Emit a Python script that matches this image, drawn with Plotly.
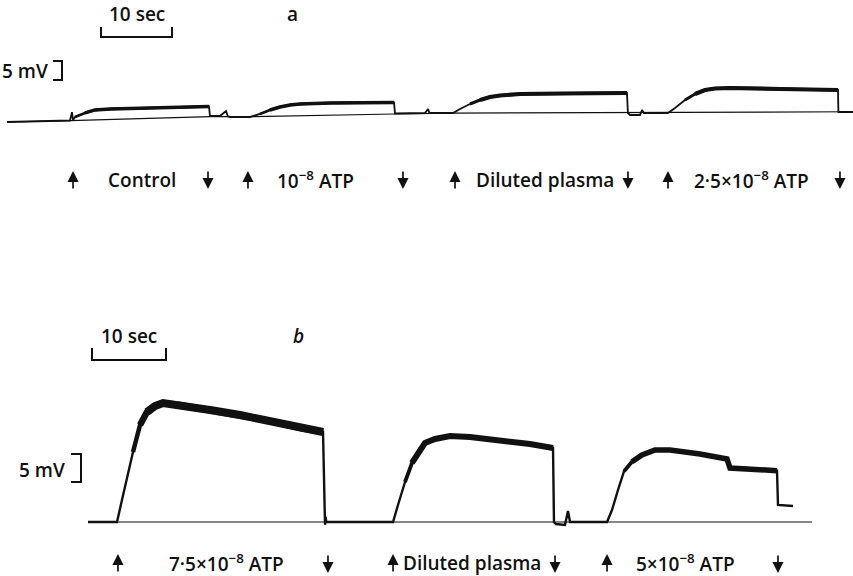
import plotly.graph_objects as go

# ---------------- Panel a : time (s) vs membrane potential (mV) ----------------
a_trace_t = [0, 8.87, 9.15, 9.3, 9.58, 10.99, 12.39, 14.51, 20.14, 28.45,
             28.59, 30.0, 30.85, 31.1, 31.41, 34.23, 35.63, 37.04, 38.45, 39.86,
             41.27, 45.49, 54.51, 54.65, 58.87, 59.3, 59.5, 62.82, 63.80, 65.21,
             66.62, 68.03, 69.44, 72.25, 77.89, 87.32, 87.45, 87.75, 89.15, 89.44,
             89.7, 93.10, 94.08, 95.49, 96.90, 98.31, 99.72, 101.83, 108.87, 117.04,
             117.1, 119.15]
a_trace_v = [0, 0.39, 2.6, 0.5, 1.32, 2.37, 3.16, 3.42, 3.68, 4.08,
             1.58, 1.58, 2.89, 1.5, 1.32, 1.32, 2.11, 3.16, 3.95, 4.47,
             4.74, 5.0, 5.13, 2.24, 2.37, 3.42, 2.37, 2.37, 3.42, 4.74,
             5.79, 6.58, 6.97, 7.37, 7.5, 7.63, 2.37, 1.84, 1.84, 3.16,
             2.37, 2.37, 3.68, 5.79, 7.37, 8.42, 8.82, 8.95, 8.68, 8.42,
             2.63, 2.63]
a_base_t = [0, 8.9, 28.6, 34.2, 54.6, 62.8, 119.15]
a_base_v = [0, 0.35, 1.4, 1.4, 2.1, 2.35, 2.7]
a_labels = ["Control", "10<sup>−8</sup> ATP", "Diluted plasma", "2·5×10<sup>−8</sup> ATP"]
a_label_t = [19.0, 43.5, 75.8, 104.9]
a_on_t = [9.3, 33.94, 63.1, 93.1]
a_off_t = [28.31, 55.77, 87.46, 117.32]

# ---------------- Panel b ----------------
b_trace_t = [0, 3.92, 4.59, 5.27, 6.08, 7.03, 7.97, 9.05, 10.14, 12.43,
             16.49, 20.54, 24.59, 28.65, 31.76, 32.03, 32.1, 32.2, 41.08, 41.22,
             41.89, 42.84, 43.78, 44.86, 45.54, 46.89, 48.92, 51.62, 55.68, 59.73,
             62.84, 62.97, 63.24, 64.46, 64.86, 65.14, 70.14, 70.81, 71.62, 72.43,
             73.51, 74.86, 76.62, 78.65, 82.70, 86.35, 86.76, 89.46, 93.11, 93.24,
             95.27]
b_trace_v = [0, 0, 3.93, 7.86, 12.5, 17.32, 19.64, 20.71, 21.25, 20.89,
             20.0, 19.11, 18.04, 16.79, 16.07, -0.5, 0.9, 0, 0, 0,
             3.04, 7.14, 10.54, 13.04, 14.11, 14.82, 15.36, 15.18, 14.64, 13.93,
             13.21, 0, -0.36, -0.54, 1.96, 0, 0, 2.14, 5.71, 9.04,
             10.77, 11.96, 12.86, 12.86, 12.14, 11.25, 9.64, 9.46, 9.16, 3.04,
             2.86]
b_base_t = [0, 97.84]
b_base_v = [0, 0]
b_labels = ["7·5×10<sup>−8</sup> ATP", "Diluted plasma", "5×10<sup>−8</sup> ATP"]
b_label_t = [18.65, 51.9, 80.68]
b_on_t = [4.05, 41.22, 70.14]
b_off_t = [32.43, 63.11, 93.24]

# calibration bars (10 s, 5 mV)
cal_time = 10
cal_volt = 5

# ---------------- layout geometry ----------------
W, H = 853, 576
A_X0, A_SX, A_Y0, A_SY = 7, 7.1, 122, 3.8      # panel a px mapping
B_X0, B_SX, B_Y0, B_SY = 88, 7.4, 522, 5.6     # panel b px mapping

def ax_range(x0, sx):
    return [-x0 / sx, (W - x0) / sx]

def ay_range(y0, sy, top, bottom):
    return [(y0 - bottom) / sy, (y0 - top) / sy]

INK = "#111111"
FONT = "Open Sans"

fig = go.Figure()

def add_line(x, y, w, xa, ya):
    fig.add_trace(go.Scatter(x=x, y=y, mode="lines", xaxis=xa, yaxis=ya,
                             line=dict(color=INK, width=w, shape="linear"),
                             hoverinfo="skip", showlegend=False))

# panel a
add_line(a_base_t, a_base_v, 1.2, "x", "y")
add_line(a_trace_t, a_trace_v, 1.8, "x", "y")
for i0, i1, w in [(4, 10, 2.6), (5, 10, 3.4), (16, 23, 2.6), (17, 23, 3.6),
                  (29, 36, 3.0), (30, 36, 4.2), (43, 50, 3.0), (44, 50, 4.2)]:
    add_line(a_trace_t[i0:i1], a_trace_v[i0:i1], w, "x", "y")

# panel b
add_line(b_base_t, b_base_v, 1.2, "x2", "y2")
add_line(b_trace_t, b_trace_v, 2.4, "x2", "y2")
for (i0, i1), w in [((4, 15), 4.5), ((5, 15), 6.5), ((6, 15), 8),
                    ((21, 31), 3.8), ((22, 31), 6),
                    ((39, 49), 3.8), ((40, 49), 5.5)]:
    add_line(b_trace_t[i0:i1], b_trace_v[i0:i1], w, "x2", "y2")

# calibration bars
a_ct0 = (101 - A_X0) / A_SX
a_cv = (A_Y0 - 37) / A_SY
tick_a = 10 / A_SY
add_line([a_ct0, a_ct0, a_ct0 + cal_time, a_ct0 + cal_time],
         [a_cv + tick_a, a_cv, a_cv, a_cv + tick_a], 2, "x", "y")
a_vt = (62 - A_X0) / A_SX
a_vb = (A_Y0 - 80) / A_SY
tw_a = 9 / A_SX
add_line([a_vt - tw_a, a_vt, a_vt, a_vt - tw_a],
         [a_vb + cal_volt, a_vb + cal_volt, a_vb, a_vb], 2, "x", "y")

b_ct0 = (92 - B_X0) / B_SX
b_cv = (B_Y0 - 360) / B_SY
tick_b = 12 / B_SY
add_line([b_ct0, b_ct0, b_ct0 + cal_time, b_ct0 + cal_time],
         [b_cv + tick_b, b_cv, b_cv, b_cv + tick_b], 2, "x2", "y2")
b_vt = (81 - B_X0) / B_SX
b_vb = (B_Y0 - 482) / B_SY
tw_b = 10 / B_SX
add_line([b_vt - tw_b, b_vt, b_vt, b_vt - tw_b],
         [b_vb + cal_volt, b_vb + cal_volt, b_vb, b_vb], 2, "x2", "y2")

annotations = []

def txt(x, y, s, xa, ya, xanchor="center", size=19):
    annotations.append(dict(x=x, y=y, xref=xa, yref=ya, text=s, showarrow=False,
                            xanchor=xanchor, yanchor="middle",
                            font=dict(family=FONT, size=size, color=INK, weight=600)))

def arrow(x, y, up, xa, ya):
    annotations.append(dict(x=x, y=y, xref=xa, yref=ya, text="", showarrow=True,
                            ax=0, ay=19 if up else -19, arrowhead=2, arrowsize=1.3,
                            arrowwidth=1.7, arrowcolor=INK))

# panel a texts
txt(a_ct0 + cal_time / 2, (A_Y0 - 14) / A_SY, "10 sec", "x", "y")
txt((292 - A_X0) / A_SX, (A_Y0 - 14) / A_SY, "a", "x", "y")
txt((50 - A_X0) / A_SX, (A_Y0 - 71) / A_SY, "5 mV", "x", "y", xanchor="right")
for s, t in zip(a_labels, a_label_t):
    txt(t, (A_Y0 - 180) / A_SY, s, "x", "y")
for t in a_on_t:
    arrow(t, (A_Y0 - 171) / A_SY, True, "x", "y")
for t in a_off_t:
    arrow(t, (A_Y0 - 189) / A_SY, False, "x", "y")

# panel b texts
txt(b_ct0 + cal_time / 2, (B_Y0 - 336) / B_SY, "10 sec", "x2", "y2")
txt((298 - B_X0) / B_SX, (B_Y0 - 336) / B_SY, "<i>b</i>", "x2", "y2", size=19)
txt((67 - B_X0) / B_SX, (B_Y0 - 470) / B_SY, "5 mV", "x2", "y2", xanchor="right")
for s, t in zip(b_labels, b_label_t):
    txt(t, (B_Y0 - 563) / B_SY, s, "x2", "y2")
for t in b_on_t:
    arrow(t, (B_Y0 - 554) / B_SY, True, "x2", "y2")
for t in b_off_t:
    arrow(t, (B_Y0 - 573) / B_SY, False, "x2", "y2")

hidden = dict(visible=False, showgrid=False, zeroline=False, fixedrange=True)
fig.update_layout(
    width=W, height=H, autosize=False,
    margin=dict(l=0, r=0, t=0, b=0, pad=0),
    paper_bgcolor="white", plot_bgcolor="white",
    showlegend=False,
    annotations=annotations,
    xaxis=dict(domain=[0, 1], range=ax_range(A_X0, A_SX), anchor="y", **hidden),
    yaxis=dict(domain=[0.5, 1], range=ay_range(A_Y0, A_SY, 0, 288), anchor="x", **hidden),
    xaxis2=dict(domain=[0, 1], range=ax_range(B_X0, B_SX), anchor="y2", **hidden),
    yaxis2=dict(domain=[0, 0.5], range=ay_range(B_Y0, B_SY, 288, 576), anchor="x2", **hidden),
)

fig.write_html("out.html", config=dict(displayModeBar=False))
